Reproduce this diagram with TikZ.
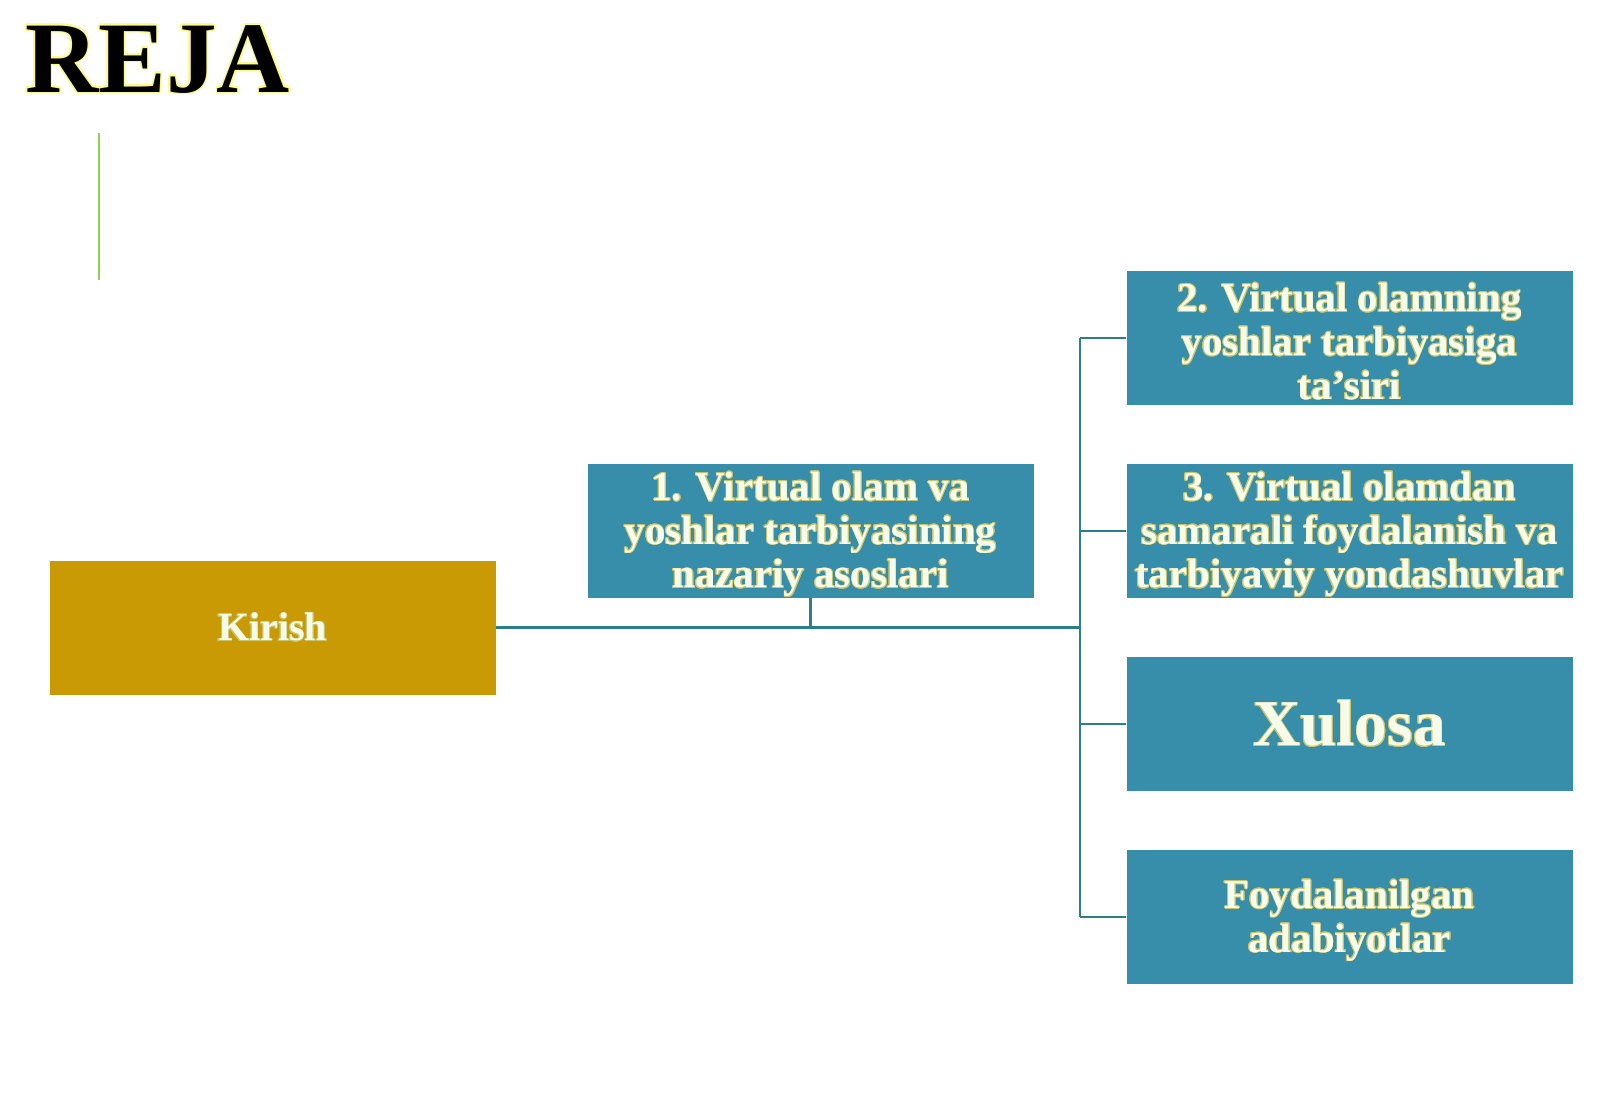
\documentclass[tikz,border=0pt]{standalone}
\usepackage{fontspec}
\setmainfont{Liberation Serif}
\usepackage{contour}
\contourlength{0.55pt}
\definecolor{boxblue}{HTML}{378EAA}
\definecolor{boxgold}{HTML}{C99A03}
\definecolor{linkteal}{HTML}{2C7F8A}
\definecolor{accentgreen}{HTML}{92D050}
\definecolor{txtcream}{HTML}{F6FBEA}
\definecolor{glowyellow}{HTML}{C8C46A}
\newcommand{\glc}[1]{\contour{glowyellow}{#1}}
\newcommand{\gl}[1]{\raisebox{-2.8pt}[\height][\depth]{\contour{glowyellow}{#1}}}
\tikzset{
  x=0.75pt, y=-0.75pt,
  planbox/.style={draw=none, fill=boxblue, minimum width=334.5pt, minimum height=100.5pt,
    inner sep=0pt, align=center, text=txtcream, font=\bfseries\fontsize{30.7}{32.8}\selectfont},
  introbox/.style={planbox, fill=boxgold, font=\bfseries\fontsize{30}{32.8}\selectfont},
  link/.style={draw=linkteal, line width=1.6pt},
}
\begin{document}
\begin{tikzpicture}
\useasboundingbox (0,0) rectangle (1600,1107);
\fill[white] (0,0) rectangle (1600,1107);
% title
\node[anchor=base west, inner sep=0pt, font=\bfseries\fontsize{76}{80}\selectfont, text=black] (title) at (25,92) {\contourlength{1.1pt}\contour{yellow!45}{REJA}};
\draw[accentgreen, line width=1.8pt] (99,133) coordinate (gtop) -- (99,280) coordinate (gbot);
% boxes
\node[introbox] (kirish) at (272.5,627.5) {\glc{Kirish}};
\node[planbox] (b1) at (810.5,531) {\gl{1. Virtual olam va}\\\gl{yoshlar tarbiyasining}\\\gl{nazariy asoslari}};
\node[planbox] (b2) at (1349.5,338) {\gl{2. Virtual olamning}\\\gl{yoshlar tarbiyasiga}\\\gl{ta’siri}};
\node[planbox] (b3) at (1349.5,531) {\gl{3. Virtual olamdan}\\\gl{samarali foydalanish va}\\\gl{tarbiyaviy yondashuvlar}};
\node[planbox, font=\bfseries\fontsize{49}{52}\selectfont] (b4) at (1349.5,724) {\glc{Xulosa}};
\node[planbox] (b5) at (1349.5,917) {\gl{Foydalanilgan}\\\gl{adabiyotlar}};
% connectors
\coordinate (hub) at (1080,627.5);
\draw[link] (kirish.east) -- (hub);
\draw[link] (b1.south) -- (b1.south |- hub);
\draw[link] (hub |- b2.west) -- (hub |- b5.west);
\draw[link] (hub |- b2.west) -- (b2.west);
\draw[link] (hub |- b3.west) -- (b3.west);
\draw[link] (hub |- b4.west) -- (b4.west);
\draw[link] (hub |- b5.west) -- (b5.west);
\end{tikzpicture}
\end{document}
